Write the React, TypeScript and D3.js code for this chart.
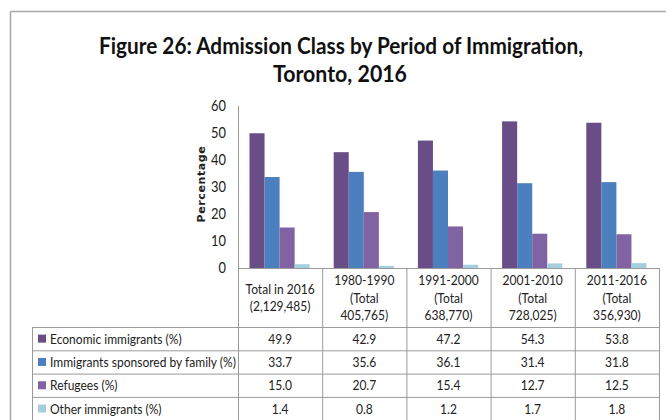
import React from "react";
import * as d3 from "d3";

const categories = ["Total in 2016", "1980-1990", "1991-2000", "2001-2010", "2011-2016"];
const headerLines = [
  ["Total in 2016", "(2,129,485)"],
  ["1980-1990", "(Total", "405,765)"],
  ["1991-2000", "(Total", "638,770)"],
  ["2001-2010", "(Total", "728,025)"],
  ["2011-2016", "(Total", "356,930)"],
];
const seriesNames = [
  "Economic immigrants (%)",
  "Immigrants sponsored by family (%)",
  "Refugees (%)",
  "Other immigrants (%)",
];
const economic = [49.9, 42.9, 47.2, 54.3, 53.8];
const family = [33.7, 35.6, 36.1, 31.4, 31.8];
const refugees = [15.0, 20.7, 15.4, 12.7, 12.5];
const other = [1.4, 0.8, 1.2, 1.7, 1.8];
const yTicks = [0, 10, 20, 30, 40, 50, 60];
const colors = ["#684D86", "#4C7FBE", "#8163A4", "#A5CFDD"];

const series = [economic, family, refugees, other];

const W = 666;
const H = 420;
const plotLeft = 238;
const plotRight = 659;
const yTop = 106;
const yBottom = 268;
const tableLeft = 32;
const headerBottom = 327;
const rowH = 23.3;
const SX = 0.86;

function NText(props: {
  x: number;
  y: number;
  anchor?: "start" | "middle" | "end";
  size?: number;
  weight?: string;
  children: React.ReactNode;
}) {
  return (
    <text
      transform={`translate(${props.x},${props.y}) scale(${SX},1)`}
      textAnchor={props.anchor || "start"}
      fontSize={props.size || 14}
      fontWeight={props.weight || "normal"}
      fill="#222"
    >
      {props.children}
    </text>
  );
}

export default function App() {
  const x = d3.scaleBand<string>().domain(categories).range([plotLeft, plotRight]);
  const inner = d3
    .scaleBand<number>()
    .domain(d3.range(series.length))
    .range([11.5, x.bandwidth() - 12.5]);
  const y = d3.scaleLinear().domain([0, 60]).range([yBottom, yTop]);
  const font = "Lato, sans-serif";
  const border = "#9a9a9a";

  return (
    <svg
      width={W}
      height={H}
      style={{ position: "absolute", left: 0, top: 0, background: "#fff" }}
      fontFamily={font}
    >
      <rect x={0} y={0} width={W} height={H} fill="#fff" />
      {/* frame */}
      <line x1={10.5} y1={11.5} x2={W} y2={11.5} stroke="#a8a8a8" strokeWidth={1.5} />
      <line x1={10.5} y1={11.5} x2={10.5} y2={H} stroke="#a8a8a8" strokeWidth={1.5} />

      {/* title */}
      <text x={341} y={54} textAnchor="middle" fontSize={23} fontWeight="bold" textLength={484} lengthAdjust="spacingAndGlyphs" fill="#111">
        Figure 26: Admission Class by Period of Immigration,
      </text>
      <text x={340} y={82} textAnchor="middle" fontSize={23} fontWeight="bold" textLength={134} lengthAdjust="spacingAndGlyphs" fill="#111">
        Toronto, 2016
      </text>

      {/* y axis title */}
      <text
        transform={`translate(205, ${(yTop + yBottom) / 2 - 3}) rotate(-90)`}
        textAnchor="middle"
        fontSize={11}
        fontWeight="bold"
        fontFamily="'DejaVu Sans', sans-serif"
        letterSpacing={0.6}
        fill="#222"
      >
        Percentage
      </text>

      {/* y ticks */}
      {yTicks.map((t) => (
        <NText key={t} x={226} y={y(t) + 5} anchor="end" size={15}>
          {t}
        </NText>
      ))}

      {/* bars */}
      {categories.map((c, ci) => (
        <g key={c} transform={`translate(${x(c)},0)`}>
          {series.map((s, si) => (
            <rect
              key={si}
              x={inner(si)}
              y={y(s[ci])}
              width={inner.bandwidth()}
              height={y(0) - y(s[ci])}
              fill={colors[si]}
            />
          ))}
        </g>
      ))}

      {/* axis line */}
      <line x1={plotLeft + 0.5} y1={yTop} x2={plotLeft + 0.5} y2={yBottom} stroke={border} />

      {/* table */}
      <line x1={plotLeft} y1={yBottom + 0.5} x2={plotRight} y2={yBottom + 0.5} stroke={border} />
      {d3.range(series.length + 1).map((i) => (
        <line
          key={"h" + i}
          x1={tableLeft}
          y1={headerBottom + i * rowH + 0.5}
          x2={plotRight}
          y2={headerBottom + i * rowH + 0.5}
          stroke={border}
        />
      ))}
      <line x1={tableLeft + 0.5} y1={headerBottom} x2={tableLeft + 0.5} y2={H} stroke={border} />
      {categories.map((c) => (
        <line key={"v" + c} x1={(x(c) as number) + 0.5} y1={yBottom} x2={(x(c) as number) + 0.5} y2={H} stroke={border} />
      ))}
      <line x1={plotRight + 0.5} y1={yBottom} x2={plotRight + 0.5} y2={H} stroke={border} />

      {/* header text */}
      {categories.map((c, ci) => {
        const lines = headerLines[ci];
        const lh = 17.5;
        const cy = (yBottom + headerBottom) / 2;
        const start = cy - ((lines.length - 1) * lh) / 2;
        return lines.map((l, li) => (
          <NText
            key={c + li}
            x={(x(c) as number) + x.bandwidth() / 2}
            y={start + li * lh + 5}
            anchor="middle"
          >
            {l}
          </NText>
        ));
      })}

      {/* rows */}
      {series.map((s, si) => {
        const ry = headerBottom + si * rowH;
        return (
          <g key={"r" + si}>
            <rect x={38} y={ry + rowH / 2 - 4} width={8} height={8} fill={colors[si]} />
            <NText x={50} y={ry + rowH / 2 + 5}>
              {seriesNames[si]}
            </NText>
            {categories.map((c, ci) => (
              <NText
                key={c}
                x={(x(c) as number) + x.bandwidth() / 2}
                y={ry + rowH / 2 + 5}
                anchor="middle"
              >
                {s[ci].toFixed(1)}
              </NText>
            ))}
          </g>
        );
      })}
    </svg>
  );
}
